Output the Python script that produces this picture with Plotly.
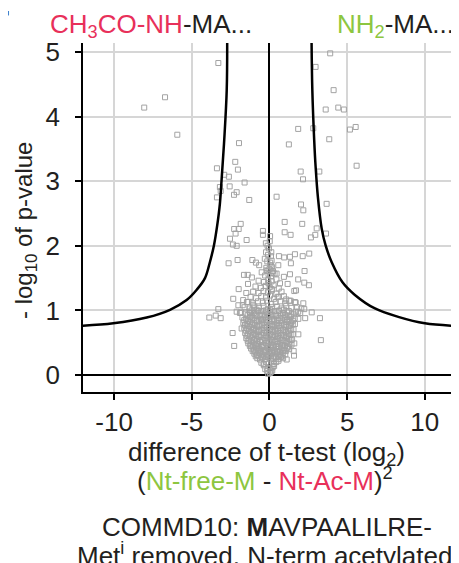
import plotly.graph_objects as go

# volcano plot: difference of t-test vs -log10 p
tick_x = [-10, -5, 0, 5, 10]
tick_x_text = ["-10", "-5", "0", "5", "10"]
tick_y = [0, 1, 2, 3, 4, 5]
tick_y_text = ["0", "1", "2", "3", "4", "5"]

# proteins away from the central cloud
out_diff = [
    -3.29, -6.72, -8.06, -5.93, -1.96, -2.20, -2.03, -3.38, -2.91, -2.61,
    -1.60, -3.19, -3.14, -2.56, -2.11, -2.28, -3.38, -1.30,
    3.91, 2.97, 4.13, 3.62, 4.43, 4.79, 1.85, 2.82, 5.18, 5.55,
    3.85, 1.25, 5.61, 2.01, 3.21, 2.16, 0.46,
    2.03, 2.18, 3.68, 0.98, 2.11, -1.85, -1.98, -2.27, -0.42, -0.42,
    -0.23, 0.98, 1.36, 3.04, 2.95, 2.67, 3.64, -2.54, -1.47, -2.35,
    -2.11, -2.18,
    -2.63, -2.05, -1.10, -0.87, -0.66, 0.61, 0.95, 1.32, 1.64, 2.14,
    2.56, 0.14, 0.57, 1.38, 2.26, 0.46, 0.93, 1.85, 2.24, 2.54,
    1.17, 1.71, 0.68, 1.27, 1.64, 2.18, 1.85, 2.24, 2.72, 3.25,
    3.31, 1.32, 0.53, 1.08, 1.60, 1.69, 2.30,
    -1.64, -1.40, -1.13, -0.50, -0.12, 0.23, -1.38, -1.98, -1.49, -2.33,
    -1.69, -3.29, -3.87, -3.46, -3.14, -2.00, -1.72, -1.36, -1.04, -2.11,
    -1.90, -1.25, -1.79, -1.04, -2.37, -2.27,
    1.58, 1.86, 1.60, 1.56, 1.11,
]
out_logp = [
    4.83, 4.30, 4.14, 3.72, 3.59, 3.30, 3.18, 3.20, 3.10, 3.07,
    2.98, 2.91, 2.85, 2.92, 2.83, 2.79, 2.75, 2.71,
    4.98, 4.77, 4.41, 4.11, 4.14, 4.11, 3.81, 3.82, 3.80, 3.84,
    3.65, 3.57, 3.24, 3.15, 3.15, 3.03, 2.76,
    2.64, 2.55, 2.65, 2.37, 2.34, 2.34, 2.26, 2.26, 2.23, 2.17,
    2.04, 2.21, 2.17, 2.27, 2.17, 2.13, 2.19, 2.11, 2.09, 2.02,
    2.00, 2.19,
    1.73, 1.78, 1.78, 1.74, 1.70, 1.84, 1.82, 1.83, 1.87, 1.84,
    1.88, 1.77, 1.70, 1.73, 1.61, 1.57, 1.52, 1.48, 1.43, 1.39,
    1.41, 1.31, 1.42, 1.15, 1.13, 1.11, 0.98, 1.02, 0.97, 0.88,
    0.54, 1.56, 1.21, 1.17, 1.30, 1.12, 0.88,
    1.55, 1.55, 1.51, 1.59, 1.61, 1.61, 1.41, 1.33, 1.27, 1.18,
    1.16, 1.02, 0.89, 0.92, 0.88, 1.08, 1.08, 1.13, 1.08, 0.98,
    0.96, 0.96, 0.72, 0.72, 0.65, 0.45,
    0.30, 0.63, 0.49, 0.37, 0.24,
]

# dense cloud around zero
core_diff = [
    -0.08, 0.03, 0.11, -0.15, 0.18,
    -0.27, -0.12, 0.06, 0.21, 0.30, -0.36,
    -0.52, -0.38, -0.21, -0.04, 0.13, 0.29, 0.44, 0.58,
    -0.78, -0.61, -0.44, -0.27, -0.09, 0.08, 0.24, 0.41, 0.59, 0.74, 0.88,
    -0.97, -0.80, -0.63, -0.46, -0.30, -0.14, 0.02, 0.19, 0.35, 0.52, 0.69, 0.86, 1.02,
    -1.18, -1.00, -0.82, -0.64, -0.47, -0.29, -0.11, 0.07, 0.25, 0.43, 0.60, 0.78, 0.96, 1.14, 1.27,
    -1.36, -1.17, -0.98, -0.79, -0.60, -0.41, -0.22, -0.04, 0.15, 0.34, 0.53, 0.71, 0.90, 1.09, 1.28, 1.42,
    -1.49, -1.30, -1.10, -0.90, -0.70, -0.50, -0.31, -0.12, 0.08, 0.27, 0.47, 0.66, 0.86, 1.05, 1.25, 1.46,
    -1.56, -1.37, -1.16, -0.95, -0.75, -0.55, -0.35, -0.15, 0.05, 0.25, 0.45, 0.65, 0.85, 1.05, 1.26, 1.50,
    -1.62, -1.41, -1.20, -0.99, -0.78, -0.57, -0.36, -0.16, 0.04, 0.24, 0.45, 0.66, 0.87, 1.08, 1.30, 1.55,
    -1.68, -1.46, -1.24, -1.02, -0.80, -0.58, -0.37, -0.15, 0.06, 0.28, 0.50, 0.72, 0.94, 1.16, 1.39, 1.64,
    -1.74, -1.50, -1.26, -1.02, -0.78, -0.54, -0.30, -0.07, 0.17, 0.41, 0.65, 0.89, 1.13, 1.38, 1.63, 1.86,
    -1.82, -1.55, -1.28, -1.00, -0.73, -0.46, -0.20, 0.06, 0.33, 0.60, 0.87, 1.14, 1.42, 1.70, 1.98,
    -1.60, -1.28, -0.97, -0.67, -0.38, -0.10, 0.18, 0.47, 0.77, 1.08, 1.41, 1.78, 2.05,
    -1.45, -1.08, -0.74, -0.43, -0.15, 0.12, 0.40, 0.70, 1.02, 1.36,
    -1.22, -0.86, -0.53, -0.22, 0.04, 0.30, 0.60, 0.93,
    -1.05, -0.70, -0.38, -0.10, 0.15, 0.44, 0.78,
    -0.90, -0.55, -0.25, 0.02, 0.27, 0.60,
    -0.70, -0.35, -0.08, 0.14, 0.45,
    -0.28, -0.06, 0.10, 0.33,
    -0.20, 0.00, 0.17,
    -0.14, 0.05,
    -0.09, 0.10,
    -0.03,
    0.02,
]
core_logp = [
    0.02, 0.03, 0.05, 0.06, 0.07,
    0.09, 0.11, 0.10, 0.12, 0.14, 0.15,
    0.19, 0.17, 0.20, 0.18, 0.21, 0.17, 0.20, 0.22,
    0.26, 0.24, 0.27, 0.25, 0.28, 0.24, 0.26, 0.27, 0.25, 0.28, 0.26,
    0.33, 0.31, 0.34, 0.32, 0.35, 0.31, 0.33, 0.34, 0.32, 0.35, 0.31, 0.34, 0.32,
    0.41, 0.39, 0.42, 0.40, 0.43, 0.38, 0.41, 0.42, 0.39, 0.43, 0.40, 0.41, 0.38, 0.42, 0.40,
    0.49, 0.47, 0.50, 0.48, 0.51, 0.46, 0.49, 0.50, 0.47, 0.51, 0.48, 0.49, 0.46, 0.50, 0.48, 0.47,
    0.57, 0.55, 0.58, 0.56, 0.59, 0.54, 0.57, 0.58, 0.55, 0.59, 0.56, 0.57, 0.54, 0.58, 0.56, 0.55,
    0.65, 0.63, 0.66, 0.64, 0.67, 0.62, 0.65, 0.66, 0.63, 0.67, 0.64, 0.65, 0.62, 0.66, 0.64, 0.63,
    0.73, 0.71, 0.74, 0.72, 0.75, 0.70, 0.73, 0.74, 0.71, 0.75, 0.72, 0.73, 0.70, 0.74, 0.72, 0.71,
    0.81, 0.79, 0.82, 0.80, 0.83, 0.78, 0.81, 0.82, 0.79, 0.83, 0.80, 0.81, 0.78, 0.82, 0.80, 0.79,
    0.89, 0.87, 0.90, 0.88, 0.91, 0.86, 0.89, 0.90, 0.87, 0.91, 0.88, 0.89, 0.86, 0.90, 0.88, 0.87,
    0.97, 0.95, 0.98, 0.96, 0.99, 0.94, 0.97, 0.98, 0.95, 0.99, 0.96, 0.97, 0.94, 0.98, 0.96,
    1.05, 1.03, 1.06, 1.04, 1.07, 1.02, 1.05, 1.06, 1.03, 1.07, 1.04, 1.05, 1.03,
    1.13, 1.11, 1.14, 1.12, 1.15, 1.10, 1.13, 1.14, 1.11, 1.15,
    1.21, 1.19, 1.22, 1.20, 1.23, 1.18, 1.21, 1.22,
    1.29, 1.27, 1.30, 1.28, 1.31, 1.26, 1.29,
    1.37, 1.35, 1.38, 1.36, 1.39, 1.34,
    1.46, 1.44, 1.47, 1.45, 1.48,
    1.54, 1.56, 1.53, 1.57,
    1.66, 1.64, 1.67,
    1.76, 1.74,
    1.86, 1.84,
    1.96,
    2.07,
]

# more of the cloud, between the rows above
fill_diff = [
    -0.88, -0.70, -0.53, -0.37, -0.21, -0.06, 0.10, 0.27, 0.43, 0.60, 0.78,
    -1.08, -0.90, -0.72, -0.55, -0.38, -0.20, -0.03, 0.15, 0.33, 0.50, 0.68, 0.86, 1.05,
    -1.26, -1.07, -0.88, -0.70, -0.51, -0.32, -0.13, 0.06, 0.24, 0.43, 0.62, 0.81, 1.00, 1.19,
    -1.40, -1.20, -1.00, -0.80, -0.60, -0.40, -0.20, 0.00, 0.19, 0.39, 0.58, 0.77, 0.97, 1.16, 1.36,
    -1.46, -1.26, -1.05, -0.85, -0.65, -0.45, -0.25, -0.05, 0.15, 0.35, 0.55, 0.75, 0.95, 1.15, 1.36,
    -1.52, -1.30, -1.09, -0.88, -0.67, -0.46, -0.26, -0.05, 0.15, 0.35, 0.56, 0.76, 0.97, 1.18, 1.40,
    -1.57, -1.35, -1.13, -0.91, -0.69, -0.47, -0.26, -0.05, 0.17, 0.39, 0.61, 0.83, 1.05, 1.27, 1.50,
    -1.62, -1.38, -1.14, -0.90, -0.66, -0.42, -0.18, 0.05, 0.29, 0.53, 0.77, 1.01, 1.25, 1.50,
    -1.40, -1.13, -0.87, -0.60, -0.33, -0.07, 0.20, 0.46, 0.73, 1.00, 1.28, 1.56,
    -1.15, -0.82, -0.52, -0.24, 0.03, 0.32, 0.62, 0.93, 1.25,
    -0.18, 0.08, -0.30, 0.12, -0.12, 0.20, -0.22, 0.04, -0.06, 0.15,
]
fill_logp = [
    0.29, 0.30, 0.28, 0.30, 0.29, 0.28, 0.30, 0.29, 0.28, 0.30, 0.29,
    0.37, 0.36, 0.38, 0.37, 0.36, 0.38, 0.37, 0.36, 0.38, 0.37, 0.36, 0.38, 0.37,
    0.45, 0.44, 0.46, 0.45, 0.44, 0.46, 0.45, 0.44, 0.46, 0.45, 0.44, 0.46, 0.45, 0.44,
    0.53, 0.52, 0.54, 0.53, 0.52, 0.54, 0.53, 0.52, 0.54, 0.53, 0.52, 0.54, 0.53, 0.52, 0.54,
    0.61, 0.60, 0.62, 0.61, 0.60, 0.62, 0.61, 0.60, 0.62, 0.61, 0.60, 0.62, 0.61, 0.60, 0.62,
    0.69, 0.68, 0.70, 0.69, 0.68, 0.70, 0.69, 0.68, 0.70, 0.69, 0.68, 0.70, 0.69, 0.68, 0.70,
    0.77, 0.76, 0.78, 0.77, 0.76, 0.78, 0.77, 0.76, 0.78, 0.77, 0.76, 0.78, 0.77, 0.76, 0.78,
    0.85, 0.84, 0.86, 0.85, 0.84, 0.86, 0.85, 0.84, 0.86, 0.85, 0.84, 0.86, 0.85, 0.84,
    0.93, 0.92, 0.94, 0.93, 0.92, 0.94, 0.93, 0.92, 0.94, 0.93, 0.92, 0.94,
    1.00, 1.01, 0.99, 1.00, 1.01, 0.99, 1.00, 1.01, 0.99,
    1.62, 1.70, 1.80, 1.90, 2.00, 1.58, 1.90, 2.15, 1.42, 1.33,
]

# significance curves
left_curve_x = [-12.19, -10.05, -7.90, -6.40, -5.33, -4.68, -4.15, -3.83, -3.57,
                -3.36, -3.19, -3.08, -2.91, -2.75, -2.72]
left_curve_y = [0.76, 0.80, 0.89, 1.01, 1.16, 1.32, 1.50, 1.75, 2.01,
                2.32, 2.65, 3.02, 3.64, 4.41, 5.19]
right_curve_x = [12.05, 10.00, 8.29, 6.79, 5.50, 4.69, 4.00, 3.61, 3.36,
                 3.12, 2.97, 2.88, 2.76, 2.71]
right_curve_y = [0.76, 0.80, 0.90, 1.03, 1.24, 1.44, 1.75, 2.01, 2.27,
                 2.75, 3.23, 3.64, 4.41, 5.19]

assert len(out_diff) == len(out_logp)
assert len(core_diff) == len(core_logp)
assert len(fill_diff) == len(fill_logp)

RED = "#e8305a"
GREEN = "#8dc63f"
TXT = "#231f20"
FONT = "Liberation Sans, Arial, sans-serif"

# the page adds an 8px body margin, so the figure is 8px smaller
# plot area on the page: left 83, right 459, top 43, bottom 392
def px_x(p):
    return (p - 83) / 376

def px_y(p):
    return (392 - p) / 349

fig = go.Figure()
fig.add_trace(go.Scatter(
    x=out_diff + core_diff + fill_diff, y=out_logp + core_logp + fill_logp,
    mode="markers",
    marker=dict(symbol="square-open", size=5, color="#a3a3a3", line=dict(width=1)),
    hoverinfo="skip"))
for cx, cy in [(left_curve_x, left_curve_y), (right_curve_x, right_curve_y)]:
    fig.add_trace(go.Scatter(
        x=cx, y=cy, mode="lines",
        line=dict(color="black", width=2.5, shape="spline"),
        hoverinfo="skip"))

axis_common = dict(
    ticks="outside", ticklen=6, tickwidth=1.5, tickcolor="black",
    showline=True, linecolor="black", linewidth=1.5,
    showgrid=True, gridcolor="#d6d6d6", gridwidth=2,
    zeroline=True, zerolinecolor="black", zerolinewidth=2,
    tickfont=dict(size=26, color=TXT), automargin=False, tickmode="array",
)
fig.update_xaxes(range=[-12, 12.2], tickvals=tick_x, ticktext=tick_x_text,
                 ticklabelstandoff=0, **axis_common)
fig.update_yaxes(range=[-0.263, 5.14], tickvals=tick_y, ticktext=tick_y_text,
                 ticklabelstandoff=10, **axis_common)

notes = [
    (f"<span style='color:{RED}'>CH<sub>3</sub>CO-NH</span>-MA...", 48, 25, "left", 0, 26),
    (f"<span style='color:{GREEN}'>NH<sub>2</sub></span>-MA...", 335, 25, "left", 0, 26),
    ("<b>F</b>", -16, 11.5, "left", 0, 40),
    ("- log<sub>10</sub> of p-value", 25, 231, "center", -90, 24),
    ("difference of t-test (log<sub>2</sub>)", 266, 453, "center", 0, 26),
    (f"(<span style='color:{GREEN}'>Nt-free-M</span> - "
     f"<span style='color:{RED}'>Nt-Ac-M</span>)<sup>2</sup>", 265, 479, "center", 0, 26),
    ("COMMD10: <b>M</b>AVPAALILRE-", 267, 527, "center", 0, 26),
    ("Met<sup>i</sup> removed, N-term acetylated", 264, 554, "center", 0, 26),
]
for text, x, y, anchor, angle, size in notes:
    fig.add_annotation(
        text=text, x=px_x(x), y=px_y(y), xref="paper", yref="paper",
        xanchor=anchor, yanchor="middle", showarrow=False, textangle=angle,
        font=dict(size=size, color=TXT, family=FONT))

fig.update_layout(
    width=451, height=555, template="none",
    margin=dict(l=75, r=0, t=35, b=171),
    paper_bgcolor="white", plot_bgcolor="white", showlegend=False,
    font=dict(family=FONT, size=26, color=TXT),
)

fig.write_html("out.html")
